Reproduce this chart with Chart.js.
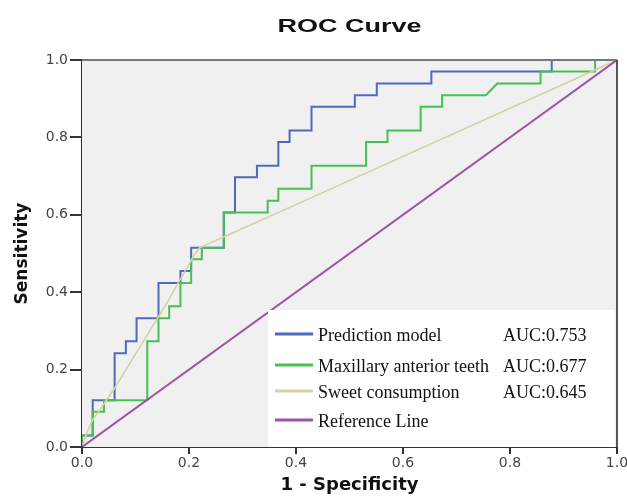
<!DOCTYPE html>
<html>
<head>
<meta charset="utf-8">
<script src="https://cdn.jsdelivr.net/npm/chart.js@4/dist/chart.umd.min.js"></script>
<style>
  html, body { margin: 0; padding: 0; background: #fff; }
  #wrap { width: 627px; height: 504px; }
</style>
</head>
<body>
<div id="wrap"><canvas id="roc" width="627" height="504"></canvas></div>
<script>
// ROC coordinates (1 - specificity, sensitivity)
const predFpr = [0, 0, 0.020, 0.020, 0.061, 0.061, 0.082, 0.082, 0.102, 0.102, 0.143, 0.143, 0.184, 0.184, 0.204, 0.204, 0.265, 0.265, 0.286, 0.286, 0.327, 0.327, 0.367, 0.367, 0.388, 0.388, 0.429, 0.429, 0.510, 0.510, 0.551, 0.551, 0.653, 0.653, 0.878, 0.878, 1];
const predTpr = [0, 0.030, 0.030, 0.121, 0.121, 0.242, 0.242, 0.273, 0.273, 0.333, 0.333, 0.424, 0.424, 0.455, 0.455, 0.515, 0.515, 0.606, 0.606, 0.697, 0.697, 0.727, 0.727, 0.788, 0.788, 0.818, 0.818, 0.879, 0.879, 0.909, 0.909, 0.939, 0.939, 0.970, 0.970, 1, 1];

const teethFpr = [0, 0, 0.020, 0.020, 0.041, 0.041, 0.122, 0.122, 0.143, 0.143, 0.163, 0.163, 0.184, 0.184, 0.204, 0.204, 0.224, 0.224, 0.265, 0.265, 0.347, 0.347, 0.367, 0.367, 0.429, 0.429, 0.531, 0.531, 0.571, 0.571, 0.633, 0.633, 0.673, 0.673, 0.755, 0.776, 0.857, 0.857, 0.959, 0.959, 1];
const teethTpr = [0, 0.030, 0.030, 0.091, 0.091, 0.121, 0.121, 0.273, 0.273, 0.333, 0.333, 0.364, 0.364, 0.424, 0.424, 0.485, 0.485, 0.515, 0.515, 0.606, 0.606, 0.636, 0.636, 0.667, 0.667, 0.727, 0.727, 0.788, 0.788, 0.818, 0.818, 0.879, 0.879, 0.909, 0.909, 0.939, 0.939, 0.970, 0.970, 1, 1];

const sweetFpr = [0, 0.01, 0.02, 0.04, 0.06, 0.08, 0.10, 0.12, 0.14, 0.16, 0.18, 0.20, 0.21, 0.22, 0.43, 0.96, 1];
const sweetTpr = [0, 0.04, 0.07, 0.11, 0.15, 0.195, 0.24, 0.285, 0.33, 0.375, 0.425, 0.472, 0.497, 0.515, 0.645, 0.975, 1];

const refFpr = [0, 1];
const refTpr = [0, 1];

const seriesNames = ['Prediction model', 'Maxillary anterior teeth', 'Sweet consumption', 'Reference Line'];
const aucLabels = ['AUC:0.753', 'AUC:0.677', 'AUC:0.645', ''];
const seriesColors = ['#5068bd', '#45c150', '#d6d1a2', '#a052a4'];
const xTicks = [0, 0.2, 0.4, 0.6, 0.8, 1.0];

const pts = (xs, ys) => xs.map((x, i) => ({ x: x, y: ys[i] }));

// gray plot background + top/right frame + title
const frame = {
  id: 'frame',
  beforeDatasetsDraw(chart) {
    const { ctx, chartArea: a } = chart;
    ctx.save();
    ctx.fillStyle = '#f0f0f0';
    ctx.fillRect(a.left, a.top, a.right - a.left, a.bottom - a.top);
    ctx.restore();
  },
  afterDraw(chart) {
    const { ctx, chartArea: a } = chart;
    ctx.save();
    ctx.strokeStyle = '#777';
    ctx.lineWidth = 2;
    ctx.beginPath();
    ctx.moveTo(a.left, a.top);
    ctx.lineTo(a.right, a.top);
    ctx.stroke();
    ctx.strokeStyle = '#555';
    ctx.beginPath();
    ctx.moveTo(a.right, a.top);
    ctx.lineTo(a.right, a.bottom);
    ctx.stroke();

    // title, stretched wide like the source image
    ctx.translate((a.left + a.right) / 2, 32);
    ctx.scale(1.5, 1);
    ctx.fillStyle = '#111';
    ctx.font = 'bold 18px "Liberation Sans", Arial, sans-serif';
    ctx.textAlign = 'center';
    ctx.textBaseline = 'alphabetic';
    ctx.fillText('ROC Curve', 0, 0);
    ctx.restore();
  }
};

// legend box in the lower right corner of the plot
const legendBox = {
  id: 'legendBox',
  afterDatasetsDraw(chart) {
    const { ctx, chartArea: a } = chart;
    const left = a.left + 186, top = a.top + 250;
    ctx.save();
    ctx.fillStyle = '#fff';
    ctx.fillRect(left, top, a.right - 2 - left, a.bottom - top);
    ctx.font = '18px "Liberation Serif", "Times New Roman", serif';
    ctx.textBaseline = 'alphabetic';
    ctx.textAlign = 'left';
    const rows = [334, 365, 391, 420];
    seriesNames.forEach((name, i) => {
      const y = rows[i];
      ctx.strokeStyle = seriesColors[i];
      ctx.lineWidth = 3;
      ctx.beginPath();
      ctx.moveTo(left + 7, y);
      ctx.lineTo(left + 45, y);
      ctx.stroke();
      ctx.fillStyle = '#111';
      ctx.fillText(name, left + 50, y + 6.5);
      if (aucLabels[i]) ctx.fillText(aucLabels[i], left + 235, y + 6.5);
    });
    ctx.restore();
  }
};

new Chart(document.getElementById('roc'), {
  type: 'scatter',
  data: {
    datasets: [
      { label: seriesNames[0], data: pts(predFpr, predTpr), borderColor: seriesColors[0], borderWidth: 2, order: 4 },
      { label: seriesNames[1], data: pts(teethFpr, teethTpr), borderColor: seriesColors[1], borderWidth: 2, order: 3 },
      { label: seriesNames[2], data: pts(sweetFpr, sweetTpr), borderColor: seriesColors[2], borderWidth: 1.6, order: 2 },
      { label: seriesNames[3], data: pts(refFpr, refTpr), borderColor: seriesColors[3], borderWidth: 2, order: 1 }
    ].map(d => Object.assign({ showLine: true, pointRadius: 0, pointHoverRadius: 0, fill: false, tension: 0 }, d))
  },
  options: {
    responsive: false,
    maintainAspectRatio: false,
    animation: false,
    events: [],
    layout: { padding: { top: 60, right: 10, bottom: 0, left: 0 } },
    plugins: { legend: { display: false }, tooltip: { enabled: false }, title: { display: false } },
    scales: {
      x: {
        type: 'linear', min: 0, max: 1,
        afterBuildTicks: s => { s.ticks = xTicks.map(v => ({ value: v })); },
        afterFit: s => { s.height = 57; s.paddingLeft = 0; s.paddingRight = 0; },
        border: { display: true, color: '#333', width: 2 },
        grid: { drawOnChartArea: false, drawTicks: true, tickLength: 7, color: '#333', lineWidth: 2 },
        ticks: { padding: 1, color: '#444', font: { family: '"DejaVu Sans", sans-serif', size: 14 }, callback: v => v.toFixed(1), maxRotation: 0 },
        title: { display: true, text: '1 - Specificity', color: '#111', font: { family: '"DejaVu Sans", sans-serif', size: 18, weight: 'bold' }, padding: { bottom: 8, top: 0 } }
      },
      y: {
        type: 'linear', min: 0, max: 1,
        afterBuildTicks: s => { s.ticks = xTicks.map(v => ({ value: v })); },
        afterFit: s => { s.width = 82; s.paddingTop = 0; s.paddingBottom = 0; },
        border: { display: true, color: '#333', width: 2 },
        grid: { drawOnChartArea: false, drawTicks: true, tickLength: 12, color: '#333', lineWidth: 2 },
        ticks: { padding: 2, color: '#444', font: { family: '"DejaVu Sans", sans-serif', size: 14 }, callback: v => v.toFixed(1) },
        title: { display: true, text: 'Sensitivity', color: '#111', font: { family: '"DejaVu Sans", sans-serif', size: 17, weight: 'bold' }, padding: { top: 12, bottom: 0 } }
      }
    }
  },
  plugins: [frame, legendBox]
});
</script>
</body>
</html>
